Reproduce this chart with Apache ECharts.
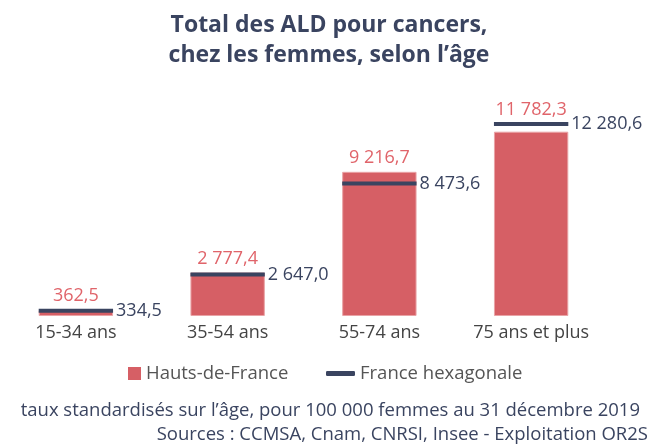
<!DOCTYPE html>
<html>
<head>
<meta charset="utf-8">
<script src="https://cdn.jsdelivr.net/npm/echarts@6/dist/echarts.min.js"></script>
<style>
  html, body { margin: 0; padding: 0; background: #fff; }
  #chart { width: 658px; height: 444px; }
</style>
</head>
<body>
<div id="chart"></div>
<script>
// data
const categories = ['15-34 ans', '35-54 ans', '55-74 ans', '75 ans et plus']
const hautsDeFrance = [362.5, 2777.4, 9216.7, 11782.3]
const franceHexa = [334.5, 2647.0, 8473.6, 12280.6]

const RED = '#d65f65'
const RED_TXT = '#e0646a'
const NAVY = '#3a4460'
const FONT = '"Open Sans", "Noto Sans", sans-serif'

// 11782.3 -> "11 782,3"
const fmt = (v) => {
    const parts = v.toFixed(1).split('.')
    return parts[0].replace(/\B(?=(\d{3})+(?!\d))/g, ' ') + ',' + parts[1]
}

const chart = echarts.init(document.getElementById('chart'))

const option = {
    animation: false,
    textStyle: { fontFamily: FONT },
    title: {
        text: 'Total des ALD pour cancers,\nchez les femmes, selon l\u2019âge',
        left: 'center',
        top: 5,
        textStyle: {
            fontFamily: FONT,
            fontSize: 23,
            fontWeight: 'bold',
            color: NAVY,
            lineHeight: 30
        }
    },
    legend: [{
        data: ['Hauts-de-France'],
        left: 123,
        top: 359,
        icon: 'rect',
        itemWidth: 13,
        itemHeight: 13,
        itemStyle: { borderWidth: 0 },
        textStyle: { fontFamily: FONT, fontSize: 18.5, color: '#555' }
    }, {
        data: ['France hexagonale'],
        left: 321,
        top: 359,
        icon: 'roundRect',
        itemWidth: 29,
        itemHeight: 5,
        textStyle: { fontFamily: FONT, fontSize: 18.5, color: '#555' }
    }],
    grid: {
        left: 0,
        right: 51,
        top: 97,
        bottom: 128,
        containLabel: false
    },
    xAxis: {
        type: 'category',
        data: categories,
        axisLine: { show: false },
        axisTick: { show: false },
        axisLabel: {
            interval: 0,
            fontFamily: FONT,
            fontSize: 18,
            color: '#444',
            margin: 8
        }
    },
    yAxis: {
        type: 'value',
        min: 0,
        max: 14000,
        show: false,
        splitLine: { show: false }
    },
    graphic: [{
        type: 'text',
        right: 18,
        top: 401,
        style: {
            text: 'taux standardisés sur l\u2019âge, pour 100 000 femmes au 31 décembre 2019',
            font: '18.5px ' + FONT,
            fill: NAVY
        }
    }, {
        type: 'text',
        right: 10,
        top: 425,
        style: {
            text: 'Sources : CCMSA, Cnam, CNRSI, Insee - Exploitation OR2S',
            font: '18.5px ' + FONT,
            fill: NAVY
        }
    }],
    series: [{
        name: 'Hauts-de-France',
        type: 'bar',
        data: hautsDeFrance,
        barWidth: '49%',
        z: 2,
        itemStyle: { color: RED, borderColor: '#e9a3a6', borderWidth: 1 }
    }, {
        name: 'France hexagonale',
        type: 'custom',
        z: 5,
        itemStyle: { color: NAVY },
        data: categories.map((c, i) => [i, franceHexa[i], hautsDeFrance[i]]),
        renderItem: (params, api) => {
            const idx = api.value(0)
            const fr = api.value(1)
            const hdf = api.value(2)
            const p = api.coord([idx, fr])
            const top = api.coord([idx, Math.max(fr, hdf)])
            const w = api.size([1, 0])[0] * 0.49
            return {
                type: 'group',
                children: [{
                    type: 'rect',
                    shape: { x: p[0] - w / 2, y: p[1] - 2, width: w, height: 4 },
                    style: { fill: NAVY }
                }, {
                    type: 'text',
                    x: p[0] + w / 2 + 3,
                    y: p[1],
                    style: {
                        text: fmt(fr),
                        font: '18px ' + FONT,
                        fill: NAVY,
                        verticalAlign: 'middle',
                        align: 'left'
                    }
                }, {
                    type: 'text',
                    x: p[0],
                    y: top[1] - 14,
                    style: {
                        text: fmt(hdf),
                        font: '18px ' + FONT,
                        fill: RED_TXT,
                        verticalAlign: 'middle',
                        align: 'center'
                    }
                }]
            }
        }
    }]
}

chart.setOption(option)
</script>
</body>
</html>
